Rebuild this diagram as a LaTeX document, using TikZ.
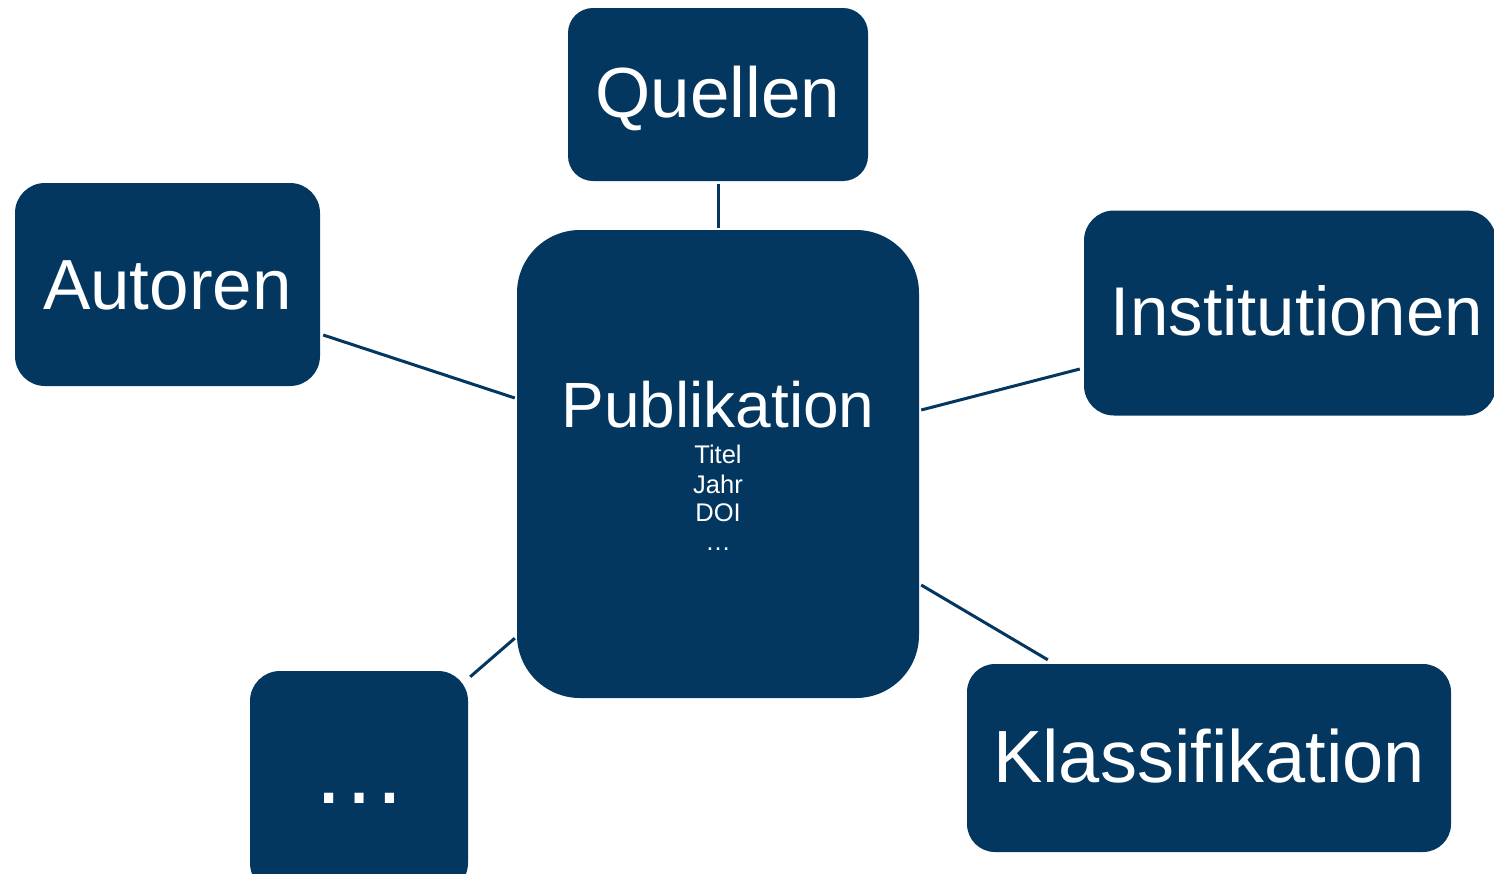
\documentclass[tikz,border=0pt]{standalone}
\usepackage{fontspec}
\setmainfont{Liberation Sans}
\usetikzlibrary{calc}
\definecolor{navy}{HTML}{04375F}
\tikzset{
  box/.style={fill=navy, draw=none, text=white, inner sep=0pt, align=center, text depth=0pt},
  link/.style={draw=navy, line width=3pt},
  small/.style={text=white, inner sep=0pt, anchor=base, font=\fontsize{25.5}{29}\selectfont}
}
\begin{document}
\begin{tikzpicture}[x=1pt, y=-1pt]
\fill[white] (0,0) rectangle (1494,873);
\useasboundingbox (0,0) rectangle (1494,873);

\node[box, minimum width=300pt, minimum height=173pt, rounded corners=25pt, text height=45pt,
      font=\fontsize{71}{85}\selectfont] (Q) at (718,94.5) {Quellen};
\node[box, minimum width=305pt, minimum height=203pt, rounded corners=30pt, text height=49pt,
      font=\fontsize{71}{85}\selectfont] (A) at (167.5,284.5) {Autoren};
\node[box, minimum width=412pt, minimum height=205pt, rounded corners=30pt, text height=44pt,
      font=\fontsize{69}{83}\selectfont] (I) at (1290,313) {\hspace*{14pt}Institutionen};
\node[box, minimum width=484pt, minimum height=188pt, rounded corners=28pt, text height=48pt,
      font=\fontsize{74}{88}\selectfont] (K) at (1209,758) {Klassifikation};
\node[box, minimum width=218pt, minimum height=222pt, rounded corners=30pt, text height=42pt,
      font=\fontsize{96}{110}\selectfont] (D) at (359,782) {…};
\node[box, minimum width=402pt, minimum height=468pt, rounded corners=63pt] (P) at (718,464) {};

\node[text=white, inner sep=0pt, anchor=base, font=\fontsize{64}{76}\selectfont] (Pt) at (718,427) {Publikation};
\node[small] (f1) at (718,463) {Titel};
\node[small] (f2) at (718,493) {Jahr};
\node[small] (f3) at (718,521) {DOI};
\node[small] (f4) at (718,550) {…};

\draw[link] ($(Q.south)+(0,3)$) -- ($(P.north)+(0,-2)$);
\draw[link] ($(A.east)+(3,50.5)$) -- ($(P.west)+(-2,-66)$);
\draw[link] ($(P.east)+(2,-54)$) -- ($(I.west)+(-4,56)$);
\draw[link] ($(P.east)+(2,121)$) -- ($(K.north west)+(81,-4)$);
\draw[link] ($(D.north east)+(2,6)$) -- ($(P.south west)+(-2,-60)$);
\end{tikzpicture}
\end{document}
